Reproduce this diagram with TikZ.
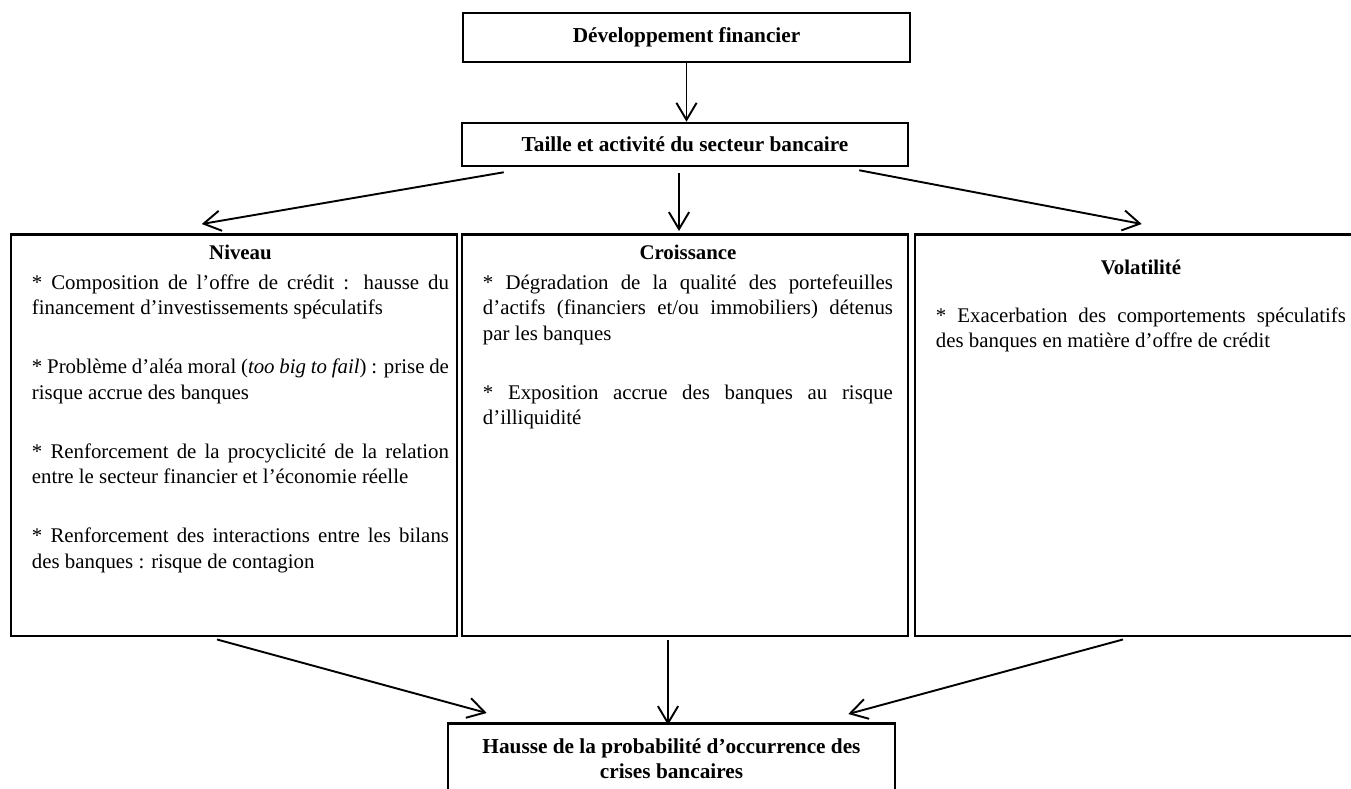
\documentclass[tikz,border=0pt]{standalone}
\usepackage{fontspec}
\setmainfont{Liberation Serif}
\usetikzlibrary{arrows.meta}

\newcommand{\headgap}{\par\vspace{2pt}}
\newcommand{\paragap}{\par\vspace{15.7pt}}

\begin{document}
\begin{tikzpicture}[x=0.47pt,y=-0.47pt,
    every node/.style={font=\fontsize{9.8}{12}\selectfont},
    box/.style={draw,line width=1.2pt,inner sep=0pt,font=\fontsize{10}{12}\selectfont\bfseries,align=center},
    catbox/.style={draw,line width=1.2pt,inner sep=0pt,minimum width=209.6pt,minimum height=188.9pt,anchor=north},
    fleche/.style={line width=0.9pt,-{Straight Barb[length=8pt,width=9.5pt]}}]
    \useasboundingbox (0,0) rectangle (1351,788);

    \node[box,minimum width=210.1pt,minimum height=23pt] (dev) at (686.5,37.5) {Développement financier};
    \node[box,minimum width=209.6pt,minimum height=20.2pt] (taille) at (685,144.5) {Taille et activité du secteur bancaire};

    \node[catbox] (niveau) at (234,233) {\hspace*{6.1pt}\begin{minipage}[t][188.9pt][t]{196pt}
        \vspace*{5pt}
        {\centering\textbf{Niveau}\par}\headgap
        * Composition de l’offre de crédit : hausse du\linebreak financement d’investissements spéculatifs\paragap
        * Problème d’aléa moral (\textit{too big to fail}) : prise de\linebreak risque accrue des banques\paragap
        * Renforcement de la procyclicité de la relation\linebreak entre le secteur financier et l’économie réelle\paragap
        * Renforcement des interactions entre les bilans\linebreak des banques : risque de contagion
    \end{minipage}};
    \node[catbox] (croissance) at (685,233) {\hspace*{2.8pt}\begin{minipage}[t][188.9pt][t]{192.7pt}
        \vspace*{5pt}
        {\centering\textbf{Croissance}\par}\headgap
        * Dégradation de la qualité des portefeuilles\linebreak d’actifs (financiers et/ou immobiliers) détenus\linebreak par les banques\paragap
        * Exposition accrue des banques au risque\linebreak d’illiquidité
    \end{minipage}};
    \node[catbox] (volatilite) at (1138,233) {\hspace*{2.8pt}\begin{minipage}[t][188.9pt][t]{192.7pt}
        \vspace*{12pt}
        {\centering\textbf{Volatilité}\par}\vspace{10.5pt}
        * Exacerbation des comportements spéculatifs\linebreak des banques en matière d’offre de crédit
    \end{minipage}};

    \node[box,minimum width=210.1pt,minimum height=33.4pt,anchor=north] (hausse) at (671.5,722) {Hausse de la probabilité d’occurrence des\\crises bancaires};

    % fleches
    \draw[fleche] (dev.south) -- (dev.south |- taille.north);
    \draw[fleche] ([shift={(43,5)}]taille.south west) -- ([shift={(192,-9)}]niveau.north west);
    \draw[fleche] ([shift={(-6,6)}]taille.south) -- ([shift={(-6,-2)}]croissance.north);
    \draw[fleche] ([shift={(-50,3)}]taille.south east) -- ([shift={(228,-9)}]volatilite.north west);

    \draw[fleche] ([shift={(-17,2)}]niveau.south) -- ([shift={(40,-9)}]hausse.north west);
    \draw[fleche] ([shift={(-17,3)}]croissance.south) -- ([shift={(-17,3)}]croissance.south |- hausse.north);
    \draw[fleche] ([shift={(-15,2)}]volatilite.south) -- ([shift={(-48,-8)}]hausse.north east);
\end{tikzpicture}
\end{document}
